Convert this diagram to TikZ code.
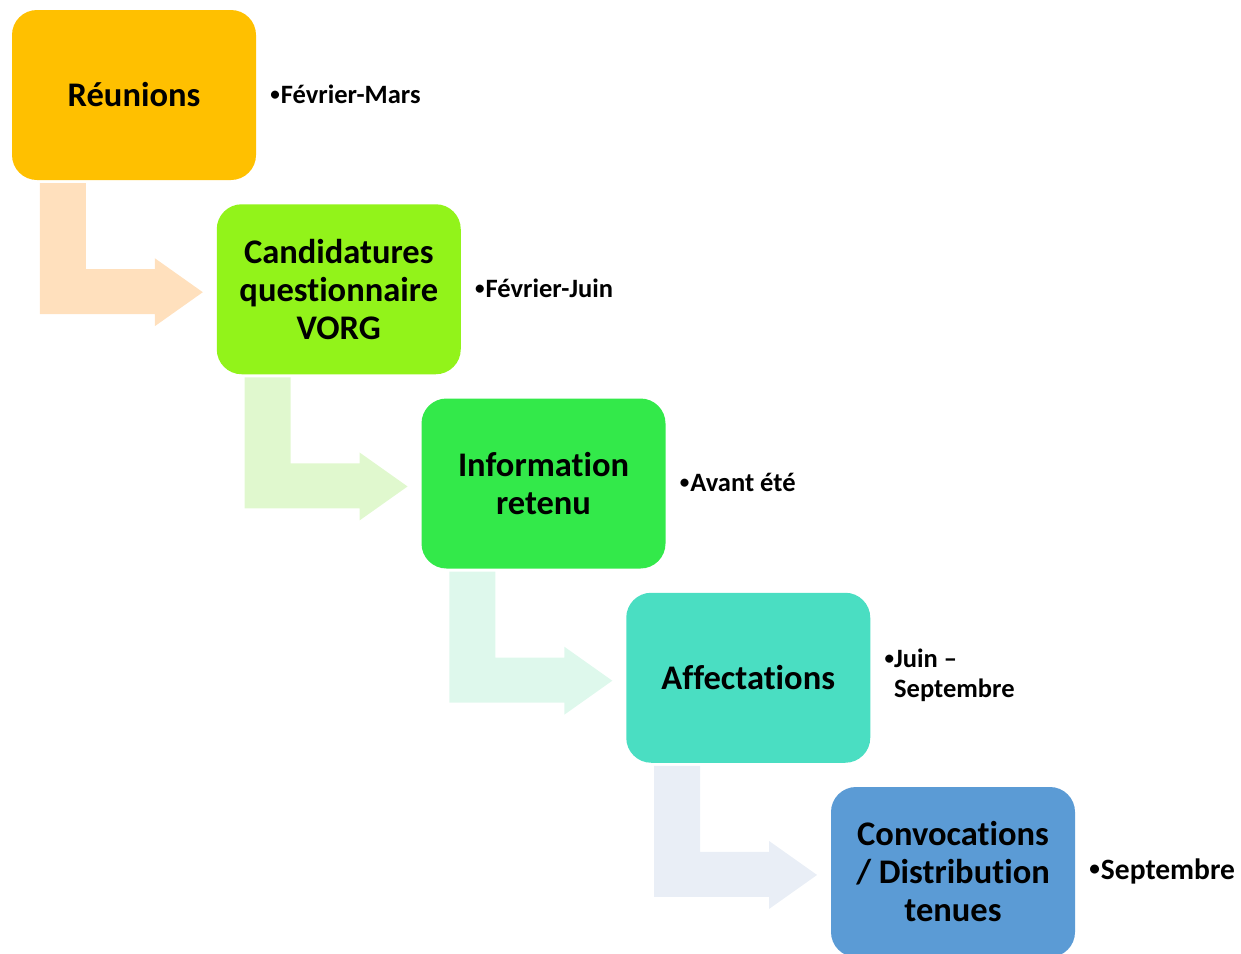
\documentclass[tikz,border=0pt]{standalone}
\usepackage{fontspec}
\usepackage{graphicx}
\setmainfont{Carlito}[Ligatures=NoCommon]
\usetikzlibrary{calc}
\definecolor{cA}{RGB}{255,192,0}
\definecolor{cB}{RGB}{146,243,26}
\definecolor{cC}{RGB}{51,233,74}
\definecolor{cD}{RGB}{74,222,194}
\definecolor{cE}{RGB}{91,155,213}
\definecolor{aA}{RGB}{255,224,189}
\definecolor{aB}{RGB}{224,248,206}
\definecolor{aC}{RGB}{222,248,236}
\definecolor{aD}{RGB}{233,238,246}
\newcommand{\bul}{\raisebox{0.12em}{\scalebox{0.72}{•}}\hspace{1pt}}
\tikzset{
  stepbox/.style={rounded corners=25pt, minimum width=244pt, minimum height=170pt,
    inner sep=0pt, align=center,
    font=\fontsize{34.5}{38}\selectfont\bfseries},
  sidelabel/.style={anchor=west, inner sep=0pt, align=left,
    font=\fontsize{26.5}{30}\selectfont\bfseries},
  bentarrow/.pic={
    \fill[pic actions] (28,3) -- (74,3) -- (74,89) -- (143,89) -- (143,78) -- (191,112)
      -- (143,146) -- (143,134) -- (28,134) -- cycle;
  }
}
\begin{document}
\begin{tikzpicture}[x=1pt,y=-1pt]
\useasboundingbox (0,0) rectangle (1241,953);
\node[stepbox, fill=cA] (b1) at (134,95) {Réunions};
\node[stepbox, fill=cB] (b2) at (338.75,289.25) {Candidatures\\questionnaire\\VORG};
\node[stepbox, fill=cC] (b3) at (543.5,483.5) {Information\\retenu};
\node[stepbox, fill=cD] (b4) at (748.25,677.75) {Affectations};
\node[stepbox, fill=cE] (b5) at (953,872) {Convocations\\/ Distribution\\tenues};
\pic[fill=aA] at (b1.south west) {bentarrow};
\pic[fill=aB] at (b2.south west) {bentarrow};
\pic[fill=aC] at (b3.south west) {bentarrow};
\pic[fill=aD] at (b4.south west) {bentarrow};
\node[sidelabel] (l1) at ($(b1.east)+(14,-1)$) {\bul Février-Mars};
\node[sidelabel] (l2) at ($(b2.east)+(14,-1)$) {\bul Février-Juin};
\node[sidelabel] (l3) at ($(b3.east)+(14,-1)$) {\bul Avant été};
\node[sidelabel] (l4) at ($(b4.east)+(14,-1)$) {\begin{tabular}{@{}l@{}l@{}}\bul&Juin –\\&Septembre\end{tabular}};
\node[sidelabel, font=\fontsize{29.5}{33}\selectfont\bfseries] (l5) at ($(b5.east)+(14,-1)$) {\bul Septembre};
\end{tikzpicture}
\end{document}
